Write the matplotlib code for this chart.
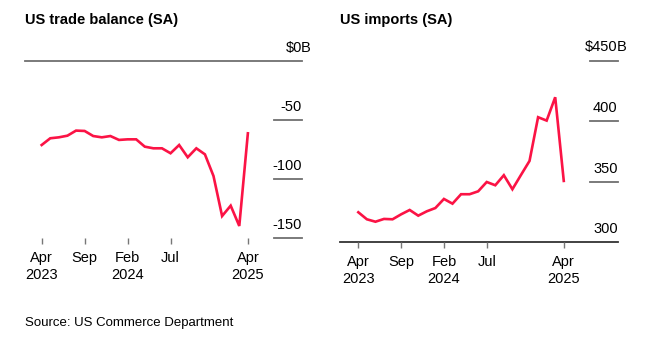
import numpy as np
import matplotlib
matplotlib.use("Agg")
import matplotlib.pyplot as plt

plt.rcParams['font.family'] = ['Liberation Sans', 'DejaVu Sans']

# Monthly data, Apr 2023 .. Apr 2025 (index 0..24)
months = np.arange(25)
trade_balance = [-71.2, -65.5, -64.7, -63.3, -59.0, -59.3, -63.6, -64.7, -63.6,
                 -66.9, -66.4, -66.4, -72.6, -74.0, -74.0, -78.2, -71.2, -81.6,
                 -74.0, -79.1, -97.5, -131.4, -122.6, -139.8, -61.3]
imports = [324.8, 319.0, 317.0, 319.3, 319.0, 323.1, 326.7, 322.0, 325.6,
           328.3, 335.8, 331.9, 339.7, 339.7, 342.1, 349.8, 347.1, 355.4,
           343.8, 355.6, 367.2, 403.3, 400.5, 419.8, 350.7]

tick_pos = [0, 5, 10, 15, 24]
tick_labels = ["Apr\n2023", "Sep", "Feb\n2024", "Jul", "Apr\n2025"]

bal_ticks = [0, -50, -100, -150]
bal_labels = ["$0", "-50", "-100", "-150"]
imp_ticks = [450, 400, 350, 300]
imp_labels = ["$450", "400", "350", "300"]

red = '#fb1345'
grid_col = '#6f6f6f'
W, H = 652, 349

fig = plt.figure(figsize=(6.52, 3.49), dpi=100)


def make_ax(x0, x1, ytop, ybot):
    return fig.add_axes([x0 / W, 1 - ybot / H, (x1 - x0) / W, (ybot - ytop) / H])


def style(ax, ticks, labels, full_line):
    for s in ax.spines.values():
        s.set_visible(False)
    ax.set_yticks([])
    ax.set_xticks(tick_pos)
    ax.set_xticklabels(tick_labels, fontsize=10.5, linespacing=1.25)
    ax.tick_params(axis='x', length=4.5, width=1, color='#777777', pad=5)
    for v, lab in zip(ticks, labels):
        if v == full_line:
            ax.axhline(v, color='#333333' if v == 300 else grid_col, lw=1.3,
                       clip_on=False, zorder=1)
        else:
            ax.axhline(v, xmin=0.9, xmax=1.0, color=grid_col, lw=1.3,
                       clip_on=False, zorder=1)
        ax.annotate(lab.replace("$", r"\$"), xy=(1, v),
                    xycoords=('axes fraction', 'data'),
                    xytext=(0, 9.5), textcoords='offset points',
                    ha='right', va='center', fontsize=10.5)
        if lab.startswith("$"):
            ax.annotate("B", xy=(1, v), xycoords=('axes fraction', 'data'),
                        xytext=(-0.8, 9.5), textcoords='offset points',
                        ha='left', va='center', fontsize=10.5)


# left panel: trade balance
ax1 = make_ax(25, 302, 50, 238)
ax1.plot(months, trade_balance, color=red, lw=1.9, solid_joinstyle='miter', zorder=3)
style(ax1, bal_ticks, bal_labels, 0)
ax1.set_ylim(-150, 9.3)
ax1.set_xlim(-1.94, 30.3)

# right panel: imports
ax2 = make_ax(340, 617.7, 50, 242.3)
ax2.plot(months, imports, color=red, lw=1.9, solid_joinstyle='miter', zorder=3)
style(ax2, imp_ticks, imp_labels, 300)
ax2.set_ylim(300, 458.8)
ax2.set_xlim(-2.14, 30.3)

fig.text(25 / W, 1 - 20 / H, "US trade balance (SA)", fontsize=10.5,
         fontweight='bold', ha='left', va='center')
fig.text(340 / W, 1 - 20 / H, "US imports (SA)", fontsize=10.5,
         fontweight='bold', ha='left', va='center')
fig.text(25 / W, 1 - 322.7 / H, "Source: US Commerce Department",
         fontsize=9.5, ha='left', va='center')

plt.savefig("out.png", dpi=100)
